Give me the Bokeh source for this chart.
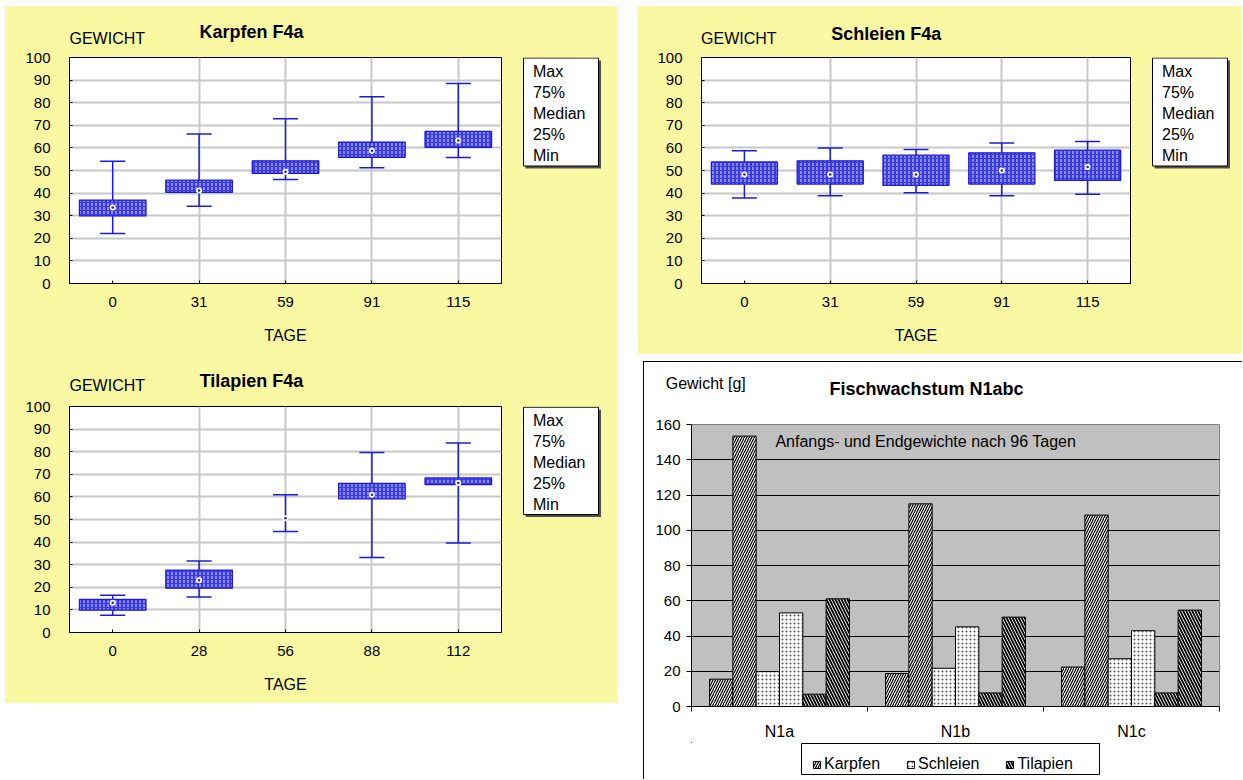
from bokeh.plotting import figure
from bokeh.models import (Range1d, FactorRange, Label, Legend, LegendItem, FixedTicker, BoxAnnotation,
                          SingleIntervalTicker, ColumnDataSource, Spacer)
from bokeh.transform import dodge
from bokeh.layouts import row, column
from bokeh.embed import file_html
from bokeh.resources import INLINE

FONT = "Liberation Sans"
YELLOW = "#faf8a2"
BLUE = "#1c1cd8"
BOXFILL = "#3a3ae6"

# ---------------- data ----------------
legend_labels = ["Max", "75%", "Median", "25%", "Min"]

karpfen_days = ["0", "31", "59", "91", "115"]
karpfen_min = [22.1, 34.2, 46.0, 51.2, 55.8]
karpfen_q1 = [29.9, 40.3, 48.7, 55.8, 60.2]
karpfen_med = [33.6, 41.2, 49.4, 58.7, 63.3]
karpfen_q3 = [36.9, 45.7, 54.3, 62.5, 67.3]
karpfen_max = [54.1, 66.2, 72.9, 82.6, 88.5]

schleien_days = ["0", "31", "59", "91", "115"]
schleien_min = [37.8, 38.8, 40.1, 38.8, 39.5]
schleien_q1 = [44.0, 44.0, 43.4, 44.0, 45.6]
schleien_med = [48.2, 48.2, 48.2, 50.0, 51.6]
schleien_q3 = [53.8, 54.3, 56.8, 57.8, 59.0]
schleien_max = [58.7, 60.0, 59.3, 62.2, 62.8]

tilapien_days = ["0", "28", "56", "88", "112"]
tilapien_min = [7.6, 15.7, 44.7, 33.2, 39.6]
tilapien_q1 = [9.9, 19.6, 50.6, 59.1, 65.4]
tilapien_med = [13.2, 23.1, 50.6, 61.0, 66.2]
tilapien_q3 = [14.6, 27.6, 50.6, 66.0, 68.4]
tilapien_max = [16.5, 31.6, 61.0, 79.7, 83.8]

groups = ["N1a", "N1b", "N1c"]
karpfen_anfang = [15.5, 18.7, 22.4]
karpfen_ende = [153.4, 115.0, 108.6]
schleien_anfang = [19.8, 21.7, 27.1]
schleien_ende = [53.1, 45.2, 43.0]
tilapien_anfang = [7.0, 7.7, 7.7]
tilapien_ende = [61.1, 50.7, 54.7]
species = ["Karpfen", "Schleien", "Tilapien"]


def canvas_fig(w, h, bg, left=0, right=0, top=0, bottom=0):
    """Figure whose data coordinates are pixel offsets from its top-left corner."""
    f = figure(width=w, height=h, x_range=Range1d(left, w - right), y_range=Range1d(h - bottom, top),
               output_backend="svg", toolbar_location=None, x_axis_type=None, y_axis_type=None,
               min_border_left=left, min_border_right=right, min_border_top=top,
               min_border_bottom=bottom)
    f.outline_line_color = None
    f.background_fill_color = bg
    f.border_fill_color = bg
    return f


def header(w, h, gew_x, gew_y, title, title_x, title_y, gew_text="GEWICHT", bg=YELLOW):
    f = canvas_fig(w, h, bg)
    f.add_layout(Label(x=gew_x, y=gew_y, text=gew_text, text_font=FONT, text_font_size="16px",
                       text_align="left", text_baseline="middle", text_color="black"))
    f.add_layout(Label(x=title_x, y=title_y, text=title, text_font=FONT, text_font_size="18px",
                       text_font_style="bold", text_align="center", text_baseline="middle",
                       text_color="black"))
    return f


def legend_fig(w, h, top, bottom, box_top, box_bottom, line0):
    f = canvas_fig(w, h, YELLOW, top=top, bottom=bottom)
    f.add_layout(BoxAnnotation(left=22, right=97.5, top=box_top + 2.5, bottom=box_bottom + 2.5,
                               fill_color="#505050", fill_alpha=1, line_color=None))
    f.add_layout(BoxAnnotation(left=20, right=95, top=box_top, bottom=box_bottom, fill_color="white",
                               fill_alpha=1, line_color="black", line_width=1, line_alpha=1))
    for k, t in enumerate(legend_labels):
        f.add_layout(Label(x=29.5, y=line0 + 21 * k, text=t, text_font=FONT, text_font_size="16px",
                           text_align="left", text_baseline="middle", text_color="black"))
    return f


def box_panel(days, mn, q1, md, q3, mx, w, h, bl, br, bt, bb):
    p = figure(width=w, height=h, x_range=FactorRange(*days), y_range=Range1d(0, 100),
               output_backend="svg", toolbar_location=None,
               min_border_left=bl, min_border_right=br, min_border_top=bt, min_border_bottom=bb)
    p.border_fill_color = YELLOW
    p.background_fill_color = "white"
    p.outline_line_color = "black"
    p.outline_line_width = 1

    p.yaxis.ticker = SingleIntervalTicker(interval=10)
    for g in (p.xgrid, p.ygrid):
        g.grid_line_color = "#c8c8c8"
        g.grid_line_width = 2
    for ax in p.axis:
        ax.major_tick_in = 3
        ax.major_tick_out = 0
        ax.minor_tick_line_color = None
        ax.major_tick_line_color = "black"
        ax.axis_line_color = "black"
        ax.major_label_text_font = FONT
        ax.major_label_text_font_size = "15px"
        ax.major_label_text_color = "black"
    p.yaxis.major_label_standoff = 15
    p.xaxis.major_label_standoff = 13
    p.xaxis.axis_label = "TAGE"
    p.xaxis.axis_label_text_font = FONT
    p.xaxis.axis_label_text_font_size = "16px"
    p.xaxis.axis_label_text_font_style = "normal"
    p.xaxis.axis_label_text_color = "black"
    p.xaxis.axis_label_standoff = 17

    src = ColumnDataSource(dict(day=days, mn=mn, q1=q1, md=md, q3=q3, mx=mx))
    bsel = [i for i in range(len(days)) if q3[i] > q1[i]]
    bsrc = ColumnDataSource(dict(day=[days[i] for i in bsel], q1=[q1[i] for i in bsel],
                                 q3=[q3[i] for i in bsel]))

    p.segment(x0="day", y0="mn", x1="day", y1="mx", source=src, line_color=BLUE, line_width=1.5)
    for col in ("mn", "mx"):
        p.segment(x0=dodge("day", -0.145, range=p.x_range), x1=dodge("day", 0.145, range=p.x_range),
                  y0=col, y1=col, source=src, line_color=BLUE, line_width=1.5)
    p.vbar(x="day", width=0.77, bottom="q1", top="q3", source=bsrc, fill_color=BOXFILL,
           line_color=BLUE, line_width=1.3, hatch_pattern=":", hatch_color="white",
           hatch_scale=4, hatch_weight=1, hatch_alpha=0.8)
    p.scatter(x="day", y="md", source=src, marker="circle", size=6, fill_color="white", line_color=None)
    p.scatter(x="day", y="md", source=src, marker="circle", size=2.5, fill_color=BLUE, line_color=None)
    return p


# ---- left column (Karpfen, Tilapien) ----
h1 = header(613, 41, 64, 31.5, "Karpfen F4a", 246, 25.7)
p1 = box_panel(karpfen_days, karpfen_min, karpfen_q1, karpfen_med, karpfen_q3, karpfen_max,
               498, 305, 64, 2, 10, 69)
l1 = legend_fig(115, 305, 10, 69, 10.5, 118.5, 24)
h3 = header(613, 44, 64, 33, "Tilapien F4a", 246, 28)
p3 = box_panel(tilapien_days, tilapien_min, tilapien_q1, tilapien_med, tilapien_q3, tilapien_max,
               498, 307, 64, 2, 10, 71)
l3 = legend_fig(115, 307, 10, 71, 10.7, 118, 23.5)

# ---- right column (Schleien) ----
h2 = header(604, 41, 62.6, 31.5, "Schleien F4a", 247.8, 27.3)
p2 = box_panel(schleien_days, schleien_min, schleien_q1, schleien_med, schleien_q3, schleien_max,
               494, 307, 63, 2, 10, 71)
l2 = legend_fig(110, 307, 10, 71, 10.5, 118.5, 24)

# ---------------- bar chart ----------------
h4 = header(598, 51, 21.2, 21, "Fischwachstum N1abc", 282, 26, gew_text="Gewicht [g]", bg="white")

p4 = figure(width=598, height=329, x_range=Range1d(0, 3), y_range=Range1d(0, 160),
            output_backend="svg", toolbar_location=None,
            min_border_left=47, min_border_right=23, min_border_top=11, min_border_bottom=35)
p4.border_fill_color = "white"
p4.background_fill_color = "#c0c0c0"
p4.outline_line_color = "#808080"
p4.xgrid.grid_line_color = None
p4.ygrid.grid_line_color = "black"
p4.ygrid.grid_line_width = 1
p4.yaxis.ticker = SingleIntervalTicker(interval=20)
p4.yaxis.minor_tick_line_color = None
p4.yaxis.major_tick_in = 0
p4.yaxis.major_tick_out = 5
p4.yaxis.major_label_standoff = 6
p4.xaxis.ticker = FixedTicker(ticks=[i + 0.5 for i in range(len(groups))],
                              minor_ticks=list(range(len(groups) + 1)))
p4.xaxis.major_label_overrides = {i + 0.5: g for i, g in enumerate(groups)}
p4.xaxis.major_tick_line_color = None
p4.xaxis.major_tick_in = 0
p4.xaxis.major_tick_out = 0
p4.xaxis.minor_tick_in = 0
p4.xaxis.minor_tick_out = 5
p4.xaxis.minor_tick_line_color = "black"
p4.xaxis.major_label_standoff = 11
for ax in p4.axis:
    ax.axis_line_color = "black"
    ax.major_label_text_font = FONT
    ax.major_label_text_color = "black"
p4.yaxis.major_label_text_font_size = "15px"
p4.xaxis.major_label_text_font_size = "16px"

bw = 0.1325
HATCH = {0: dict(hatch_pattern="/", hatch_color="black", hatch_scale=5, hatch_weight=1.2),
         1: dict(hatch_pattern=".", hatch_color="#505050", hatch_scale=4, hatch_weight=1.2),
         2: dict(hatch_pattern="\\", hatch_color="black", hatch_scale=6, hatch_weight=1.8)}
series = [(karpfen_anfang, 0), (karpfen_ende, 0), (schleien_anfang, 1),
          (schleien_ende, 1), (tilapien_anfang, 2), (tilapien_ende, 2)]
for k, (vals, sp) in enumerate(series):
    src = ColumnDataSource(dict(x=[i + 0.5 for i in range(len(groups))], top=vals))
    p4.vbar(x=dodge("x", (k - 2.5) * bw), width=bw, bottom=0, top="top", source=src,
            fill_color="white", line_color="black", line_width=1, **HATCH[sp])

p4.add_layout(Label(x=0.477, y=150.4, text="Anfangs- und Endgewichte nach 96 Tagen", text_font=FONT,
                    text_font_size="16px", text_align="left", text_baseline="middle", text_color="black"))

# legend footer (same side borders as p4, so frame alignment is a no-op)
f4 = canvas_fig(598, 37, "white", left=47, right=23)
f4.add_layout(BoxAnnotation(left=157, right=455, top=1, bottom=32, fill_color="white", fill_alpha=1,
                            line_color="black", line_width=1, line_alpha=1))
items = []
for s in range(3):
    # off-frame proxy bar: only used to give the legend its swatch
    r = f4.vbar(x=[-500], top=[-500], bottom=[-501], width=1, fill_color="white", line_color="black",
                line_width=1, **HATCH[s])
    items.append(LegendItem(label=species[s], renderers=[r]))
legend = Legend(items=items, orientation="horizontal", location=(121, 6), label_text_font=FONT,
                label_text_font_size="16px", label_text_color="black", glyph_width=9, glyph_height=9,
                label_standoff=3, spacing=26, padding=6, margin=0, border_line_color=None,
                background_fill_alpha=0, label_height=14)
f4.add_layout(legend)

bar_block = row(Spacer(width=1, height=417, styles={"background-color": "black"}),
                column(h4, column(p4, f4)))
bar_panel = column(Spacer(width=599, height=1, styles={"background-color": "black"}), bar_block)

left = column(h1, row(p1, l1), h3, row(p3, l3), styles={"background-color": YELLOW})
right_top = column(h2, row(p2, l2), styles={"background-color": YELLOW})
right = column(right_top, Spacer(height=7), row(Spacer(width=5), bar_panel))
page = column(Spacer(height=6), row(Spacer(width=5), left, Spacer(width=20), right))

open("out.html", "w").write(file_html(page, INLINE))
